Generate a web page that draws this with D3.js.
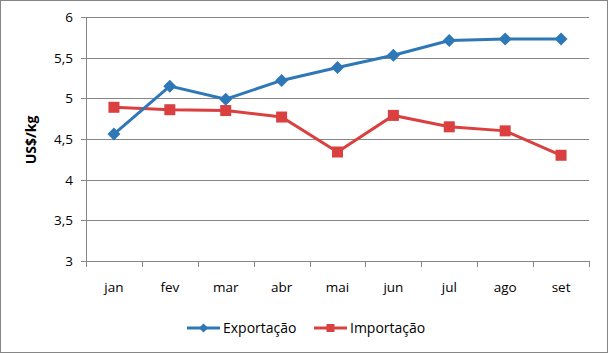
<!DOCTYPE html>
<html>
<head>
<meta charset="utf-8">
<script src="https://cdn.jsdelivr.net/npm/d3@7"></script>
<style>
  body { margin: 0; background: #fff; }
  svg { display: block; font-family: "Open Sans", "Noto Sans", sans-serif; }
  .tick-label { font-size: 13.5px; fill: #000; }
  .grid { stroke: #868686; stroke-width: 1; }
</style>
</head>
<body>
<div id="chart"></div>
<script>
// Dados
const meses = ["jan", "fev", "mar", "abr", "mai", "jun", "jul", "ago", "set"];
const exportacao = [4.56, 5.15, 4.99, 5.22, 5.38, 5.53, 5.71, 5.73, 5.73];
const importacao = [4.89, 4.86, 4.85, 4.77, 4.34, 4.79, 4.65, 4.60, 4.30];
const yTicks = [3, 3.5, 4, 4.5, 5, 5.5, 6];

const width = 608, height = 353;
const plot = {left: 86, right: 589, top: 17, bottom: 261};
const corAzul = "#2e78b8", corVermelho = "#d9403f";

const svg = d3.select("#chart").append("svg")
  .attr("width", width)
  .attr("height", height);

// borda do gráfico
svg.append("rect")
  .attr("x", 0.5).attr("y", 0.5)
  .attr("width", width - 1).attr("height", height - 1)
  .attr("fill", "#fff")
  .attr("stroke", "#868686");

const x = d3.scaleBand().domain(meses).range([plot.left, plot.right]).padding(0);
const y = d3.scaleLinear().domain([3, 6]).range([plot.bottom, plot.top]);
const fmt = d => String(d).replace(".", ",");

// linhas de grade horizontais
svg.append("g")
  .selectAll("line")
  .data(yTicks)
  .enter().append("line")
  .attr("class", "grid")
  .attr("x1", plot.left - 5)
  .attr("x2", plot.right)
  .attr("y1", d => Math.round(y(d)) + 0.5)
  .attr("y2", d => Math.round(y(d)) + 0.5);

// eixo Y
svg.append("line").attr("class", "grid")
  .attr("x1", plot.left + 0.5).attr("x2", plot.left + 0.5)
  .attr("y1", plot.top).attr("y2", plot.bottom + 1);

svg.append("g")
  .selectAll("text")
  .data(yTicks)
  .enter().append("text")
  .attr("class", "tick-label")
  .attr("x", 73)
  .attr("y", d => y(d) + 5)
  .attr("text-anchor", "end")
  .text(fmt);

// eixo X com marcas entre categorias
const limites = meses.map(m => x(m)).concat([plot.right]);
svg.append("g")
  .selectAll("line")
  .data(limites)
  .enter().append("line")
  .attr("class", "grid")
  .attr("x1", d => Math.round(d) + 0.5)
  .attr("x2", d => Math.round(d) + 0.5)
  .attr("y1", plot.bottom)
  .attr("y2", plot.bottom + 6);

svg.append("g")
  .selectAll("text")
  .data(meses)
  .enter().append("text")
  .attr("class", "tick-label")
  .attr("x", d => x(d) + x.bandwidth() / 2)
  .attr("y", 292)
  .attr("text-anchor", "middle")
  .text(d => d);

// título eixo Y
svg.append("text")
  .attr("transform", "translate(36,140) rotate(-90)")
  .attr("text-anchor", "middle")
  .style("font-size", "14px")
  .style("font-weight", "bold")
  .text("US$/kg");

const cx = d => x(d) + x.bandwidth() / 2;
const linha = d3.line().x((v, i) => cx(meses[i])).y(v => y(v));

// Importação
svg.append("path")
  .datum(importacao)
  .attr("fill", "none")
  .attr("stroke", corVermelho)
  .attr("stroke-width", 3)
  .attr("d", linha);

svg.append("g")
  .selectAll("rect")
  .data(importacao)
  .enter().append("rect")
  .attr("x", (v, i) => cx(meses[i]) - 5.5)
  .attr("y", v => y(v) - 5.5)
  .attr("width", 11).attr("height", 11)
  .attr("fill", corVermelho);

// Exportação
svg.append("path")
  .datum(exportacao)
  .attr("fill", "none")
  .attr("stroke", corAzul)
  .attr("stroke-width", 3)
  .attr("d", linha);

const diamante = "M0,-6.5L6.5,0L0,6.5L-6.5,0Z";
svg.append("g")
  .selectAll("path")
  .data(exportacao)
  .enter().append("path")
  .attr("d", diamante)
  .attr("transform", (v, i) => `translate(${cx(meses[i])},${y(v)})`)
  .attr("fill", corAzul);

// Legenda
const legenda = [
  {nome: "Exportação", cor: corAzul, x0: 187, tipo: "d"},
  {nome: "Importação", cor: corVermelho, x0: 314, tipo: "s"}
];
const ly = 328;
legenda.forEach(l => {
  svg.append("line")
    .attr("x1", l.x0).attr("x2", l.x0 + 33)
    .attr("y1", ly).attr("y2", ly)
    .attr("stroke", l.cor).attr("stroke-width", 3);
  if (l.tipo === "d") {
    svg.append("path").attr("d", "M0,-4.5L4.5,0L0,4.5L-4.5,0Z")
      .attr("transform", `translate(${l.x0 + 16.5},${ly})`)
      .attr("fill", l.cor);
  } else {
    svg.append("rect")
      .attr("x", l.x0 + 12.5).attr("y", ly - 4)
      .attr("width", 8).attr("height", 8)
      .attr("fill", l.cor);
  }
  svg.append("text")
    .attr("class", "tick-label")
    .style("font-size", "14px")
    .attr("x", l.x0 + 36)
    .attr("y", ly + 5)
    .text(l.nome);
});
</script>
</body>
</html>
